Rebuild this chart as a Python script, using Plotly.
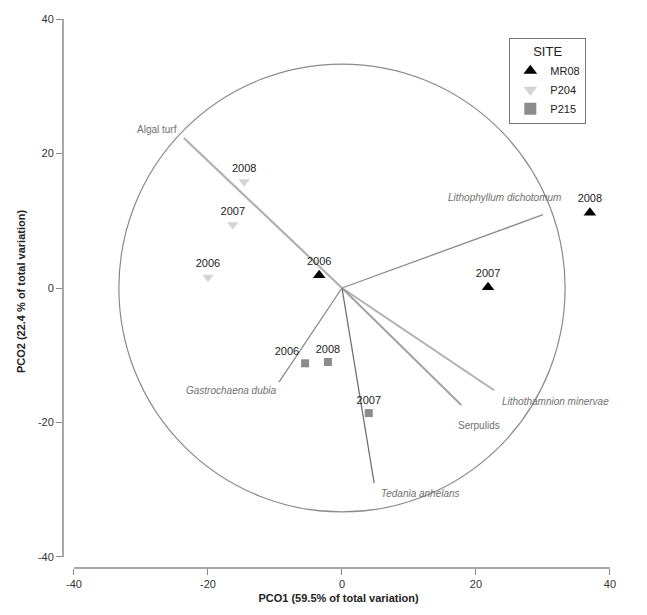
import plotly.graph_objects as go

# ---- data ----
years = ["2006", "2007", "2008"]
mr08_x = [-3.4, 21.8, 37.0]
mr08_y = [1.9, 0.1, 11.2]
p204_x = [-20.0, -16.3, -14.6]
p204_y = [1.6, 9.4, 15.8]
p215_x = [-5.5, 4.0, -2.1]
p215_y = [-11.2, -18.6, -11.0]

vec_names = ["Algal turf", "Lithophyllum dichotomum", "Lithothamnion minervae",
             "Serpulids", "Tedania anhelans", "Gastrochaena dubia"]
vec_x = [-23.6, 30.0, 22.7, 17.8, 4.8, -9.4]
vec_y = [22.3, 10.9, -15.2, -17.4, -29.0, -14.0]
circle_radius = 33.3

x_ticks = [-40, -20, 0, 20, 40]
y_ticks = [-40, -20, 0, 20, 40]
x_tick_labels = ["-40", "-20", "0", "20", "40"]
y_tick_labels = ["-40", "-20", "0", "20", "40"]

# ---- label styling (positions only) ----
vec_label_style = [
    dict(xanchor="right", yanchor="middle", xshift=-5, yshift=9, italic=False),
    dict(xanchor="right", yanchor="middle", xshift=20, yshift=17, italic=True),
    dict(xanchor="left", yanchor="middle", xshift=6, yshift=-11, italic=True),
    dict(xanchor="left", yanchor="middle", xshift=-5, yshift=-20, italic=False),
    dict(xanchor="left", yanchor="middle", xshift=5, yshift=-10, italic=True),
    dict(xanchor="right", yanchor="middle", xshift=0, yshift=-8, italic=True),
]

FONT = "Arial, Liberation Sans, sans-serif"
fig = go.Figure()

# correlation circle
fig.add_shape(type="circle", xref="x", yref="y",
              x0=-circle_radius, y0=-circle_radius, x1=circle_radius, y1=circle_radius,
              line=dict(color="#8a8a8a", width=1.2), layer="below")

# vectors
vec_colors = ["#b0b0b0", "#8a8a8a", "#b0b0b0", "#a0a0a0", "#6f6f6f", "#8a8a8a"]
vec_widths = [2.2, 1.3, 2.0, 1.8, 1.3, 1.3]
for name, vx, vy, c, w in zip(vec_names, vec_x, vec_y, vec_colors, vec_widths):
    fig.add_trace(go.Scatter(x=[0, vx], y=[0, vy], mode="lines",
                             line=dict(color=c, width=w), showlegend=False,
                             hoverinfo="skip"))

text_font = dict(family=FONT, size=11, color="#222222")

fig.add_trace(go.Scatter(
    x=mr08_x, y=mr08_y, mode="markers+text", name="MR08",
    marker=dict(symbol="triangle-up", size=11, color="black"),
    text=years, textposition="top center", textfont=text_font))
fig.add_trace(go.Scatter(
    x=p204_x, y=p204_y, mode="markers+text", name="P204",
    marker=dict(symbol="triangle-down", size=10, color="#d4d4d4"),
    text=years, textposition="top center", textfont=text_font))
fig.add_trace(go.Scatter(
    x=p215_x, y=p215_y, mode="markers+text", name="P215",
    marker=dict(symbol="square", size=8, color="#8c8c8c"),
    text=years, textposition=["top left", "top center", "top center"],
    textfont=text_font))

for name, vx, vy, st in zip(vec_names, vec_x, vec_y, vec_label_style):
    label = f"<i>{name}</i>" if st["italic"] else name
    fig.add_annotation(x=vx, y=vy, xref="x", yref="y", text=label, showarrow=False,
                       xanchor=st["xanchor"], yanchor=st["yanchor"],
                       xshift=st["xshift"], yshift=st["yshift"],
                       font=dict(family=FONT, size=10, color="#707070"))

# range-frame axis lines
fig.add_shape(type="line", xref="paper", yref="y", x0=0, x1=0,
              y0=y_ticks[0], y1=y_ticks[-1], line=dict(color="#8a8a8a", width=1.5))
fig.add_shape(type="line", xref="x", yref="paper", x0=x_ticks[0], x1=x_ticks[-1],
              y0=0, y1=0, line=dict(color="#8a8a8a", width=1.5))

axis_font = dict(family=FONT, size=11, color="#333333")
fig.update_xaxes(range=[-41.64, 40.6], tickvals=x_ticks, ticktext=x_tick_labels,
                 ticks="outside", ticklen=6,
                 tickcolor="#8a8a8a", showline=False, showgrid=False, zeroline=False,
                 tickfont=axis_font,
                 title=dict(text="<b>PCO1 (59.5% of total variation)</b>",
                            font=dict(family=FONT, size=11, color="#222222"), standoff=5))
fig.update_yaxes(range=[-41.64, 40.6], tickvals=y_ticks, ticktext=y_tick_labels,
                 ticks="outside", ticklen=6,
                 tickcolor="#8a8a8a", showline=False, showgrid=False, zeroline=False,
                 tickfont=axis_font,
                 title=dict(text="<b>PCO2 (22.4 % of total variation)</b>",
                            font=dict(family=FONT, size=11, color="#222222"), standoff=10))

fig.update_layout(
    width=647, height=615,
    margin=dict(l=63, r=33, t=15, b=47),
    plot_bgcolor="white", paper_bgcolor="white",
    legend=dict(x=0.81, y=0.958, xanchor="left", yanchor="top",
                bordercolor="#777777", borderwidth=1, bgcolor="white",
                title=dict(text="SITE", side="top center",
                           font=dict(family=FONT, size=13, color="#222222")),
                font=dict(family=FONT, size=11, color="#222222"),
                itemsizing="constant", itemwidth=30, tracegroupgap=0),
)

fig.write_html("out.html")
